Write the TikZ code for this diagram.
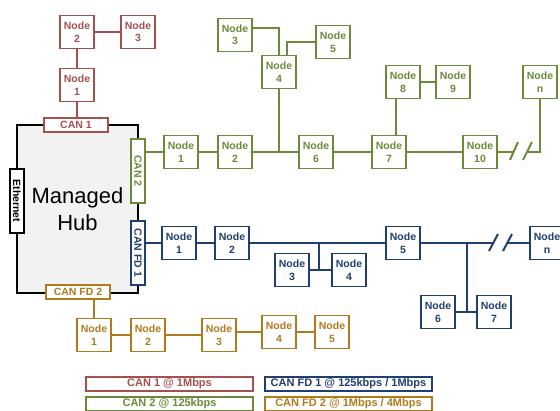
\documentclass[tikz,border=0pt]{standalone}
\usepackage{fontspec}
\setmainfont{Liberation Sans}
\usetikzlibrary{positioning,calc}
\definecolor{canred}{RGB}{166,80,78}
\definecolor{cangreen}{RGB}{106,138,58}
\definecolor{canblue}{RGB}{31,63,110}
\definecolor{cangold}{RGB}{176,122,30}
\tikzset{
    busnode/.style={
        draw=#1,line width=1.2pt,fill=white,text=#1,
        minimum width=34pt,minimum height=33pt,inner sep=0pt,
        align=center,font=\fontsize{10.5}{12.5}\selectfont\bfseries
    },
    busnode/.default=canred,
    port/.style={
        draw=#1,line width=1.2pt,fill=white,text=#1,
        minimum width=64pt,minimum height=14pt,inner sep=0pt,
        font=\fontsize{10.5}{12}\selectfont\bfseries
    },
    port/.default=black,
    bus/.style={draw=#1,line width=1.2pt},
    brk/.style={draw=#1,line width=2pt},
    legend/.style={
        draw=#1,line width=1.2pt,text=#1,
        minimum width=167pt,minimum height=14pt,inner sep=0pt,
        font=\fontsize{11}{12}\selectfont\bfseries
    }
}

\begin{document}
\begin{tikzpicture}[x=1pt,y=-1pt]
\useasboundingbox (0,0) rectangle (560,410);

% hub
\node[draw=black,line width=2.5pt,fill=gray!10,
minimum width=121pt,minimum height=168pt,align=center,
font=\fontsize{22}{27}\selectfont]
(hub) at (77.5,209) {Managed\\Hub};

\node[port=canred] (can1) at (76,125) {CAN 1};
\node[port=cangreen,rotate=-90] (can2) at (138,171) {CAN 2};
\node[port=canblue,rotate=-90] (canfd1) at (138,253) {CAN FD 1};
\node[port=cangold] (canfd2) at (78,292) {CAN FD 2};
\node[port,rotate=-90] (eth) at (17,201) {Ethernet};

% CAN 1
\node[busnode=canred] (r1) at (77,85) {Node\\1};
\node[busnode=canred] (r2) at (77,32) {Node\\2};
\node[busnode=canred] (r3) at (138,32) {Node\\3};

\draw[bus=canred] (r1 |- can1.north) -- (r1) -- (r2) -- (r3);

% CAN 2
\node[busnode=cangreen] (g1) at (181,152) {Node\\1};
\node[busnode=cangreen] (g2) at (235,152) {Node\\2};
\node[busnode=cangreen] (g6) at (316,152) {Node\\6};
\node[busnode=cangreen] (g7) at (389,152) {Node\\7};
\node[busnode=cangreen] (g10) at (480,152) {Node\\10};
\node[busnode=cangreen] (g3) at (235,35) {Node\\3};
\node[busnode=cangreen] (g4) at (279,72) {Node\\4};
\node[busnode=cangreen] (g5) at (333,42) {Node\\5};
\node[busnode=cangreen] (g8) at (403,82) {Node\\8};
\node[busnode=cangreen] (g9) at (453,82) {Node\\9};
\node[busnode=cangreen] (gn) at (540,82) {Node\\n};
\coordinate (gbrk1) at (513,152);
\coordinate (gbrk2) at (528,152);

\draw[bus=cangreen] (g1 -| can2.north) -- (g1) -- (g2) -- (g6) -- (g7) -- (g10) -- (gbrk1);
\draw[bus=cangreen] (gbrk2) -| (gn.south);
\draw[bus=cangreen] (g4.south) -- (g4.south |- g2);
\draw[bus=cangreen] ([yshift=7pt]g3.east) -| (g4.north);
\draw[bus=cangreen] (g5.west) -| ([xshift=8pt]g4.north);
\draw[bus=cangreen] ([xshift=-7pt]g8.south) -- ([xshift=-7pt]g8.south |- g7.north);
\draw[bus=cangreen] (g8) -- (g9);
\draw[brk=cangreen] ($(gbrk1)+(-3,8)$) -- ($(gbrk1)+(5,-10)$);
\draw[brk=cangreen] ($(gbrk2)+(-5,8)$) -- ($(gbrk2)+(4,-10)$);

% CAN FD 1
\node[busnode=canblue] (b1) at (179,243) {Node\\1};
\node[busnode=canblue] (b2) at (232,243) {Node\\2};
\node[busnode=canblue] (b3) at (292,270) {Node\\3};
\node[busnode=canblue] (b4) at (349,270) {Node\\4};
\node[busnode=canblue] (b5) at (403,243) {Node\\5};
\node[busnode=canblue] (b6) at (438,312) {Node\\6};
\node[busnode=canblue] (b7) at (494,312) {Node\\7};
\node[busnode=canblue] (bn) at (547,243) {Node\\n};
\coordinate (bj1) at (319,243);
\coordinate (bj2) at (467,243);
\coordinate (bbrk1) at (493,243);
\coordinate (bbrk2) at (508,243);

\draw[bus=canblue] (b1 -| canfd1.north) -- (b1) -- (b2) -- (b5) -- (bbrk1);
\draw[bus=canblue] (bbrk2) -- (bn);
\draw[bus=canblue] (bj1) -- (bj1 |- b3);
\draw[bus=canblue] (b3) -- (b4);
\draw[bus=canblue] (bj2) -- (bj2 |- b6);
\draw[bus=canblue] (b6) -- (b7);
\draw[brk=canblue] ($(bbrk1)+(-4,8)$) -- ($(bbrk1)+(5,-9)$);
\draw[brk=canblue] ($(bbrk2)+(-5,8)$) -- ($(bbrk2)+(4,-9)$);

% CAN FD 2
\node[busnode=cangold] (o1) at (94,335) {Node\\1};
\node[busnode=cangold] (o2) at (148,335) {Node\\2};
\node[busnode=cangold] (o3) at (219,335) {Node\\3};
\node[busnode=cangold] (o4) at (279,332) {Node\\4};
\node[busnode=cangold] (o5) at (332,332) {Node\\5};

\draw[bus=cangold] (canfd2.south -| o1) -- (o1) -- (o2) -- (o3);
\draw[bus=cangold] (o4 -| o3.east) -- (o4) -- (o5);

% legend
\node[legend=canred] (l1) at (169.5,384) {CAN 1 @ 1Mbps};
\node[legend=canblue] (l2) at (348.5,384) {CAN FD 1 @ 125kbps / 1Mbps};
\node[legend=cangreen] (l3) at (169.5,404) {CAN 2 @ 125kbps};
\node[legend=cangold] (l4) at (348.5,404) {CAN FD 2 @ 1Mbps / 4Mbps};

\end{tikzpicture}
\end{document}
